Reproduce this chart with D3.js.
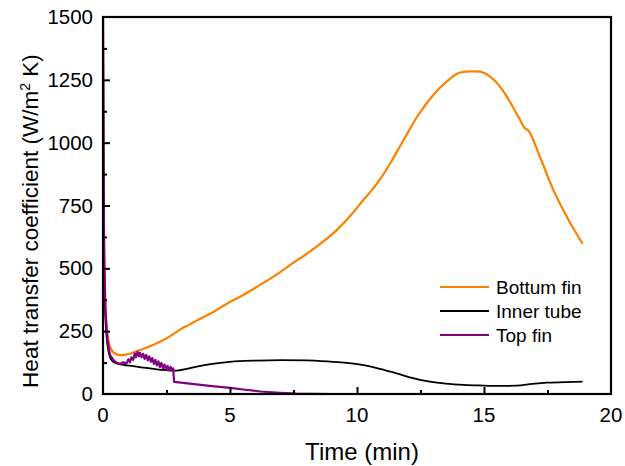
<!DOCTYPE html>
<html>
<head>
<meta charset="utf-8">
<script src="https://cdn.jsdelivr.net/npm/d3@7"></script>
<style>
  body { margin: 0; background: #fff; }
  text { font-family: "Liberation Sans", Arial, sans-serif; fill: #000; }
</style>
</head>
<body>
<div id="chart"></div>
<script>
// time (min) and heat transfer coefficient
const bottomT = [0, 0.03, 0.08, 0.15, 0.28, 0.45, 0.67, 0.9, 1.06, 1.3, 1.6, 1.85, 2.2, 2.5, 2.8, 3.03, 3.4, 3.69, 4.0, 4.34, 4.61, 5.0, 5.52, 6.18, 6.71, 7.36, 8.02, 8.54, 9.2, 9.85, 10.25, 10.64, 11.0, 11.35, 11.69, 12.0, 12.35, 13.0, 13.53, 14.06, 14.5, 14.84, 15.24, 15.63, 16.02, 16.42, 16.61, 16.73, 17.2, 17.73, 18.26, 18.88];
const bottomV = [1500, 800, 420, 260, 188, 162, 155, 157, 160, 170, 180, 190, 206, 221, 240, 256, 276, 292, 308, 326, 343, 366, 394, 434, 467, 513, 558, 596, 652, 722, 772, 818, 868, 925, 985, 1040, 1100, 1190, 1243, 1279, 1284, 1283, 1263, 1223, 1163, 1090, 1057, 1050, 944, 812, 705, 598];

const innerT = [0, 0.03, 0.08, 0.15, 0.28, 0.4, 0.54, 0.8, 1.19, 1.5, 1.85, 2.2, 2.5, 2.9, 3.3, 3.69, 4.3, 5.0, 6.0, 7.0, 8.0, 8.94, 9.6, 10.25, 10.9, 11.56, 12.2, 12.87, 13.5, 14.19, 14.8, 15.5, 16.28, 16.9, 17.46, 18.2, 18.88];
const innerV = [1500, 700, 350, 220, 145, 128, 122, 116, 111, 106, 102, 97, 95, 93, 100, 109, 120, 128, 133, 135, 134, 129, 124, 115, 100, 82, 63, 49, 41, 36, 34, 32, 33, 40, 45, 47, 49];

const topT = [0, 0.02, 0.05, 0.1, 0.18, 0.28, 0.41, 0.55, 0.67, 0.8, 0.93, 1.0, 1.06, 1.12, 1.19, 1.25, 1.3, 1.36, 1.42, 1.46, 1.52, 1.58, 1.64, 1.7, 1.76, 1.82, 1.88, 1.94, 2.0, 2.06, 2.12, 2.18, 2.24, 2.3, 2.36, 2.42, 2.48, 2.54, 2.6, 2.66, 2.72, 2.76, 2.8, 3.5, 4.2, 5.0, 5.6, 6.2, 6.97, 7.6, 8.3, 9.0, 18.88];
const topV = [1500, 900, 500, 320, 210, 155, 135, 124, 119, 126, 122, 138, 126, 146, 136, 162, 146, 168, 150, 164, 146, 160, 140, 156, 134, 150, 128, 143, 120, 136, 114, 130, 108, 124, 102, 117, 98, 112, 94, 108, 93, 102, 48, 40, 32, 24, 17, 10, 5, 2, 1, 0, 0];

const seriesNames = ["Bottum fin", "Inner tube", "Top fin"];
const seriesColors = ["#ff8000", "#000000", "#800080"];

const xTicks = [0, 5, 10, 15, 20];
const yTicks = [0, 250, 500, 750, 1000, 1250, 1500];

const width = 625, height = 466;
const margin = { top: 17, right: 14, bottom: 72, left: 103 };

const svg = d3.select("#chart").append("svg")
  .attr("width", width)
  .attr("height", height);

const x = d3.scaleLinear().domain([0, 20]).range([margin.left, width - margin.right]);
const y = d3.scaleLinear().domain([0, 1500]).range([height - margin.bottom, margin.top]);

svg.append("clipPath").attr("id", "clip")
  .append("rect")
  .attr("x", margin.left).attr("y", margin.top)
  .attr("width", width - margin.left - margin.right)
  .attr("height", height - margin.top - margin.bottom);

const series = [
  d3.zip(bottomT, bottomV),
  d3.zip(innerT, innerV),
  d3.zip(topT, topV)
];

const smooth = d3.line().x(d => x(d[0])).y(d => y(d[1])).curve(d3.curveMonotoneX);
const plain = d3.line().x(d => x(d[0])).y(d => y(d[1]));

svg.append("g").attr("clip-path", "url(#clip)")
  .selectAll("path")
  .data(series)
  .enter()
  .append("path")
  .attr("d", (d, i) => i === 2 ? plain(d) : smooth(d))
  .attr("fill", "none")
  .attr("stroke", (d, i) => seriesColors[i])
  .attr("stroke-width", (d, i) => i === 1 ? 1.8 : 2.2)
  .attr("stroke-linejoin", "round");

// frame
svg.append("rect")
  .attr("x", margin.left).attr("y", margin.top)
  .attr("width", width - margin.left - margin.right)
  .attr("height", height - margin.top - margin.bottom)
  .attr("fill", "none").attr("stroke", "#000").attr("stroke-width", 2.2);

// inward ticks (major and minor)
const xMin = svg.append("g").attr("transform", `translate(0,${y(0)})`);
xMin.call(d3.axisTop(x).tickValues(d3.range(2.5, 20, 5)).tickSize(4).tickFormat(""));
xMin.select(".domain").remove();
const xMaj = svg.append("g").attr("transform", `translate(0,${y(0)})`);
xMaj.call(d3.axisTop(x).tickValues(xTicks.slice(1, -1)).tickSize(7).tickFormat(""));
xMaj.select(".domain").remove();

const yMin = svg.append("g").attr("transform", `translate(${x(0)},0)`);
yMin.call(d3.axisRight(y).tickValues(d3.range(125, 1500, 250)).tickSize(4).tickFormat(""));
yMin.select(".domain").remove();
const yMaj = svg.append("g").attr("transform", `translate(${x(0)},0)`);
yMaj.call(d3.axisRight(y).tickValues(yTicks.slice(1, -1)).tickSize(7).tickFormat(""));
yMaj.select(".domain").remove();

svg.selectAll(".tick line").attr("stroke", "#000").attr("stroke-width", 2);

// tick labels
svg.append("g").selectAll("text")
  .data(xTicks).enter().append("text")
  .attr("x", d => x(d)).attr("y", y(0) + 28)
  .attr("text-anchor", "middle")
  .style("font-size", "20.5px")
  .text(d => d);

svg.append("g").selectAll("text")
  .data(yTicks).enter().append("text")
  .attr("x", x(0) - 10).attr("y", d => y(d) + 7)
  .attr("text-anchor", "end")
  .style("font-size", "20.5px")
  .text(d => d);

// axis titles
svg.append("text")
  .attr("x", 362).attr("y", 460)
  .attr("text-anchor", "middle")
  .style("font-size", "24px")
  .text("Time (min)");

const yTitle = svg.append("text")
  .attr("transform", "translate(38,221) rotate(-90)")
  .attr("text-anchor", "middle")
  .style("font-size", "22.5px");
yTitle.append("tspan").text("Heat transfer coefficient (W/m");
yTitle.append("tspan").attr("dy", -8).style("font-size", "14px").text("2");
yTitle.append("tspan").attr("dy", 8).text(" K)");

// legend
const legend = svg.append("g");
seriesNames.forEach((name, i) => {
  const ly = 287 + i * 24;
  legend.append("line")
    .attr("x1", 440).attr("x2", 489)
    .attr("y1", ly).attr("y2", ly)
    .attr("stroke", seriesColors[i]).attr("stroke-width", 2);
  legend.append("text")
    .attr("x", 496).attr("y", ly + 7)
    .style("font-size", "19px")
    .text(name);
});
</script>
</body>
</html>
